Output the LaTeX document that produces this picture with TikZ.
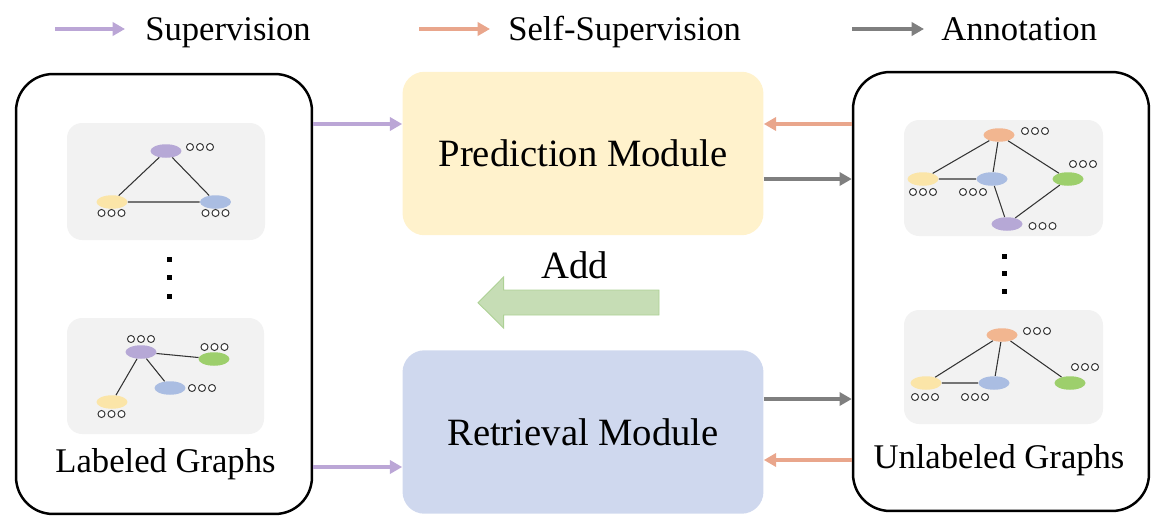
\documentclass[tikz,border=0pt]{standalone}
\usepackage{fontspec}
\setmainfont{Liberation Serif}
\usepackage{xcolor}
\usepackage{tikz}
\usetikzlibrary{arrows.meta,shapes,calc}
\definecolor{supc}{HTML}{BBA6D6}
\definecolor{selfc}{HTML}{E9A68C}
\definecolor{annc}{HTML}{7F7F7F}
\definecolor{predc}{HTML}{FFF2CC}
\definecolor{retrc}{HTML}{CFD8EE}
\definecolor{addc}{HTML}{C6DDB5}
\definecolor{addd}{HTML}{ADD195}
\definecolor{boxc}{HTML}{F2F2F2}
\definecolor{npur}{HTML}{B6A8D6}
\definecolor{nyel}{HTML}{FBE5A8}
\definecolor{nblu}{HTML}{AABDE2}
\definecolor{ngrn}{HTML}{9DCF6C}
\definecolor{nora}{HTML}{F2B690}
\newcommand{\ooo}[2]{\foreach \k in {-1,0,1}\draw[oc](#1+\k*10,#2)circle(2pt);}
\begin{document}
\begin{tikzpicture}[x=0.02cm,y=-0.02cm,
panel/.style={draw,line width=1.4pt,rounded corners=0.74cm,minimum width=5.92cm,inner sep=0},
module/.style={rounded corners=0.44cm,minimum width=7.22cm,minimum height=3.27cm,inner sep=0,font=\fontsize{22}{26}\selectfont},
txt/.style={inner sep=0,font=\fontsize{19.7}{24}\selectfont},
gbox/.style={fill=boxc,rounded corners=0.3cm},
gn/.style={ellipse,minimum width=0.62cm,minimum height=0.27cm,inner sep=0},
edge/.style={draw=black!80,line width=0.6pt},
oc/.style={draw=black!80,fill=white,line width=0.55pt},
dotsq/.style={fill=black,minimum size=0.1cm,inner sep=0},
arr/.style={line width=2.2pt,-{Triangle[length=7pt,width=7.5pt]}},
sup/.style={arr,supc},self/.style={arr,selfc},ann/.style={arr,annc}]
\useasboundingbox(0,0)rectangle(1164,528);
% legend
\coordinate(s0)at(55,29);\coordinate(s1)at(125,29);
\coordinate(f0)at(419,29);\coordinate(f1)at(490,29);
\coordinate(a0)at(852,29);\coordinate(a1)at(924,29);
\draw[sup](s0)--(s1);\draw[self](f0)--(f1);\draw[ann](a0)--(a1);
\node[txt,anchor=base west](lsup)at(145,40){Supervision};
\node[txt,anchor=base west](lself)at(508,40){Self-Supervision};
\node[txt,anchor=base west](lann)at(941,40){Annotation};
% panels
\node[panel,minimum height=8.8cm](lp)at(164,294){};
\node[panel,minimum height=8.78cm](rp)at(1001,291.5){};
\node[module,fill=predc](pm)at(583,153.5){Prediction Module};
\node[module,fill=retrc](rm)at(583,432){Retrieval Module};
\node[txt,anchor=base](llab)at(165.5,472){Labeled Graphs};
\node[txt,anchor=base](rlab)at(999,468){Unlabeled Graphs};
% graph boxes
\fill[gbox](67,123)rectangle(265,240);
\fill[gbox](67,318)rectangle(264,434);
\fill[gbox](904,120)rectangle(1103,236);
\fill[gbox](904,310)rectangle(1103,424);
\foreach \y in {259,277,296}\node[dotsq](ld\y)at(169,\y){};
\foreach \y in {256,273,291}\node[dotsq](rd\y)at(1004,\y){};
% labeled graphs
\node[gn,fill=npur](l1a)at(166,151){};
\node[gn,fill=nyel](l1b)at(112,202){};
\node[gn,fill=nblu](l1c)at(215.5,202){};
\draw[edge](l1a)--(l1b)--(l1c)--(l1a);
\ooo{200}{147}\ooo{111.5}{213}\ooo{215.5}{213}
\node[gn,fill=npur](l2a)at(141,352){};
\node[gn,fill=ngrn](l2b)at(214,359){};
\node[gn,fill=nblu](l2c)at(170,388){};
\node[gn,fill=nyel](l2d)at(112,402){};
\draw[edge](l2a)--(l2b)(l2a)--(l2c)(l2a)--(l2d);
\ooo{141}{339}\ooo{214.5}{347}\ooo{202}{388}\ooo{111.5}{414}
% unlabeled graphs
\node[gn,fill=nora](r1a)at(999,135){};
\node[gn,fill=nyel](r1b)at(923,179){};
\node[gn,fill=nblu](r1c)at(992,179){};
\node[gn,fill=ngrn](r1d)at(1068,179){};
\node[gn,fill=npur](r1e)at(1007,224){};
\draw[edge](r1a)--(r1b)--(r1c)--(r1a)--(r1d)--(r1e)--(r1c);
\ooo{1035}{131}\ooo{1083}{164}\ooo{923}{192}\ooo{973}{192}\ooo{1042.5}{226}
\node[gn,fill=nora](r2a)at(1002,335){};
\node[gn,fill=nyel](r2b)at(926,383){};
\node[gn,fill=nblu](r2c)at(994,383){};
\node[gn,fill=ngrn](r2d)at(1070,383){};
\draw[edge](r2a)--(r2b)--(r2c)--(r2a)--(r2d);
\ooo{1037}{331}\ooo{1085}{367}\ooo{925}{397}\ooo{975}{397}
% arrows
\draw[sup](lp.east|-0,124)--(pm.west|-0,124);
\draw[sup](lp.east|-0,467)--(rm.west|-0,467);
\draw[self](rp.west|-0,124)--(pm.east|-0,124);
\draw[self](rp.west|-0,460)--(rm.east|-0,460);
\draw[ann](pm.east|-0,179)--(rp.west|-0,179);
\draw[ann](rm.east|-0,399)--(rp.west|-0,399);
\draw[fill=addc,draw=addd,line width=0.5pt](659,290)--(503.6,290)--(503.6,277)--(478,302.7)--(503.6,328)--(503.6,315)--(659,315)--cycle;
\node[anchor=base,inner sep=0,font=\fontsize{22}{26}\selectfont](add)at(574.5,278){Add};
\end{tikzpicture}
\end{document}
